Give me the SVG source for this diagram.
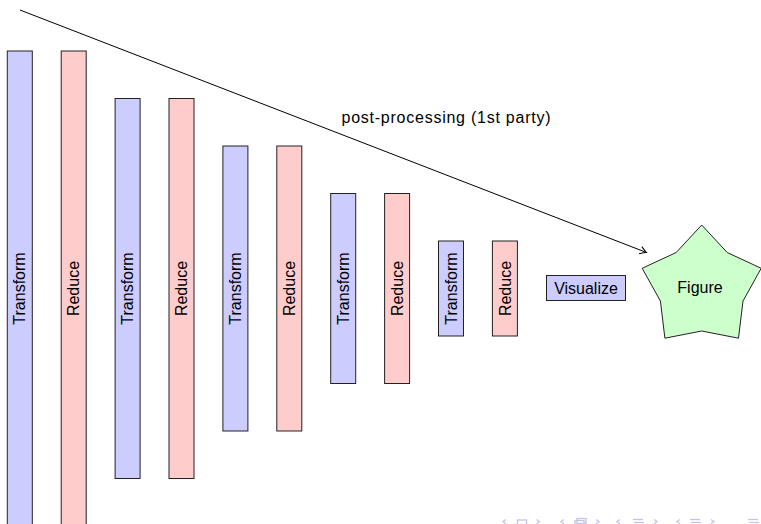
<svg xmlns="http://www.w3.org/2000/svg" width="761" height="524" viewBox="0 0 761 524">
  <style>
    text { font-family: "Liberation Sans", "DejaVu Sans", sans-serif; font-size: 16px; fill: #000; }
    .t { fill: #ccccff; stroke: #222; stroke-width: 1; }
    .r { fill: #ffcccc; stroke: #222; stroke-width: 1; }
    .star { fill: #ccffcc; stroke: #222; stroke-width: 1; }
    .edge { fill: none; stroke: #000; stroke-width: 1; }
    .nav { fill: none; stroke: #c4c4e6; stroke-width: 1.3; }
    .navf { fill: #d4d4ee; }
  </style>
  <defs>
    <marker id="to" markerUnits="userSpaceOnUse" markerWidth="14" markerHeight="12" viewBox="-8 -6 10 12" refX="0" refY="0" orient="auto">
      <path d="M -6.5 -3.8 Q -2.2 -1 0 0 Q -2.2 1 -6.5 3.8" fill="none" stroke="#000" stroke-width="1"/>
    </marker>
  </defs>
  <rect width="761" height="524" fill="#fff"/>

  <g id="connectors">
    <line class="edge" x1="20" y1="10" x2="646.5" y2="252.5" marker-end="url(#to)"/>
    <text x="341.5" y="123" textLength="209" lengthAdjust="spacing">post-processing (1st party)</text>
  </g>

  <g id="transform1"><rect class="t" x="7.3" y="51" width="25" height="475"/><text transform="translate(19.8 288.5) rotate(-90)" text-anchor="middle" dy="0.35em">Transform</text></g>
  <g id="reduce1"><rect class="r" x="61.2" y="51" width="25" height="475"/><text transform="translate(73.7 288.5) rotate(-90)" text-anchor="middle" dy="0.35em">Reduce</text></g>
  <g id="transform2"><rect class="t" x="115.1" y="98.5" width="25" height="380"/><text transform="translate(127.6 288.5) rotate(-90)" text-anchor="middle" dy="0.35em">Transform</text></g>
  <g id="reduce2"><rect class="r" x="169" y="98.5" width="25" height="380"/><text transform="translate(181.5 288.5) rotate(-90)" text-anchor="middle" dy="0.35em">Reduce</text></g>
  <g id="transform3"><rect class="t" x="222.9" y="146" width="25" height="285"/><text transform="translate(235.4 288.5) rotate(-90)" text-anchor="middle" dy="0.35em">Transform</text></g>
  <g id="reduce3"><rect class="r" x="276.8" y="146" width="25" height="285"/><text transform="translate(289.3 288.5) rotate(-90)" text-anchor="middle" dy="0.35em">Reduce</text></g>
  <g id="transform4"><rect class="t" x="330.7" y="193.5" width="25" height="190"/><text transform="translate(343.2 288.5) rotate(-90)" text-anchor="middle" dy="0.35em">Transform</text></g>
  <g id="reduce4"><rect class="r" x="384.6" y="193.5" width="25" height="190"/><text transform="translate(397.1 288.5) rotate(-90)" text-anchor="middle" dy="0.35em">Reduce</text></g>
  <g id="transform5"><rect class="t" x="438.5" y="241" width="25" height="95"/><text transform="translate(451 288.5) rotate(-90)" text-anchor="middle" dy="0.35em">Transform</text></g>
  <g id="reduce5"><rect class="r" x="492.4" y="241" width="25" height="95"/><text transform="translate(504.9 288.5) rotate(-90)" text-anchor="middle" dy="0.35em">Reduce</text></g>

  <g id="visualize"><rect class="t" x="546.5" y="275.5" width="79" height="25"/><text x="586" y="293.5" text-anchor="middle">Visualize</text></g>

  <g id="figure">
    <polygon class="star" points="701.7,225 727.2,252.5 761.2,268.3 743,301 738.5,338.2 701.7,331 664.9,338.2 660.4,301 642.2,268.3 676.2,252.5"/>
    <text x="700" y="293" text-anchor="middle">Figure</text>
  </g>

  <g id="navigation">
    <polyline class="nav" points="506,519.5 503,521.5 506,523.5"/>
    <rect class="nav" x="517.5" y="520" width="9" height="5"/>
    <polyline class="nav" points="536.5,519.5 539.5,521.5 536.5,523.5"/>
    <polyline class="nav" points="564,519.5 561,521.5 564,523.5"/>
    <rect class="nav" x="575" y="520.5" width="9" height="5"/>
    <rect class="nav" x="577" y="518.5" width="9" height="5"/>
    <polyline class="nav" points="596,519.5 599,521.5 596,523.5"/>
    <polyline class="nav" points="620,519.5 617,521.5 620,523.5"/>
    <line class="nav" x1="633" y1="519.5" x2="643" y2="519.5"/><line class="nav" x1="634" y1="522.5" x2="644" y2="522.5"/>
    <polyline class="nav" points="654,519.5 657,521.5 654,523.5"/>
    <polyline class="nav" points="680,519.5 677,521.5 680,523.5"/>
    <line class="nav" x1="690" y1="519.5" x2="700" y2="519.5"/><line class="nav" x1="691" y1="522.5" x2="701" y2="522.5"/>
    <polyline class="nav" points="711,519.5 714,521.5 711,523.5"/>
    <line class="nav" x1="748" y1="519.5" x2="758" y2="519.5"/><line class="nav" x1="749" y1="522.5" x2="759" y2="522.5"/>
  </g>
</svg>
